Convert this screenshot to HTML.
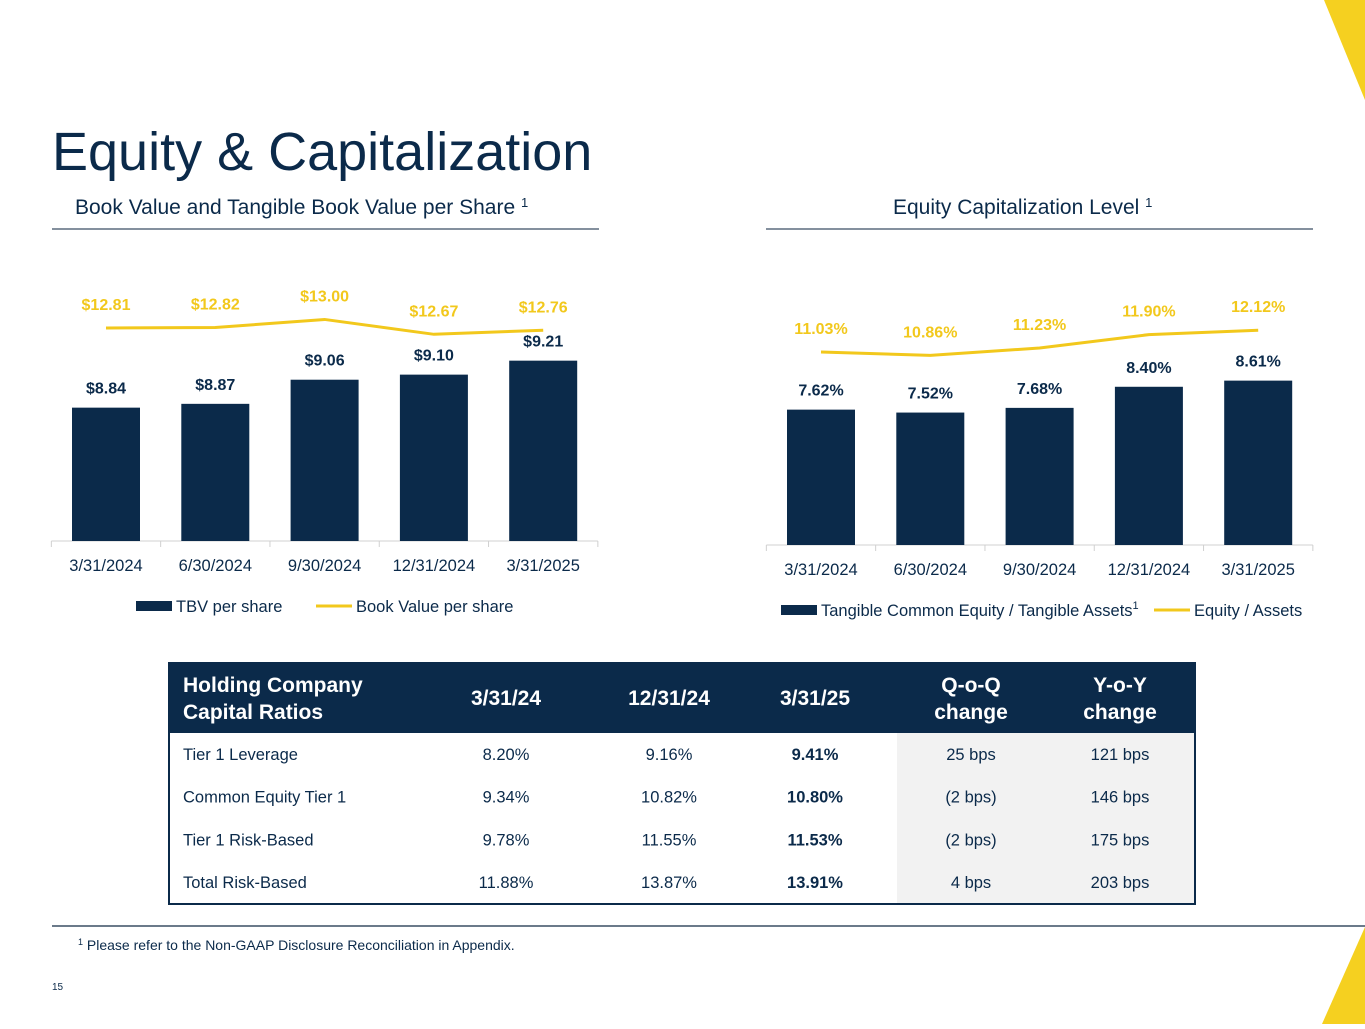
<!DOCTYPE html>
<html><head><meta charset="utf-8"><style>
body{margin:0;width:1365px;height:1024px;overflow:hidden;background:#fff;font-family:"Liberation Sans",sans-serif;}
svg text{font-family:"Liberation Sans",sans-serif;}
</style></head><body>
<svg id="s" width="1365" height="1024" viewBox="0 0 1365 1024" xmlns="http://www.w3.org/2000/svg">
<polygon points="1324,0 1365,0 1365,100" fill="#f5d020"/>
<polygon points="1365,927 1322,1024 1365,1024" fill="#f5d020"/>
<text x="52" y="170" font-size="54" fill="#0b2a4a">Equity &amp; Capitalization</text>
<text x="75" y="214" font-size="21" fill="#0b2a4a">Book Value and Tangible Book Value per Share <tspan font-size="13" dy="-7">1</tspan></text>
<line x1="52" y1="229" x2="599" y2="229" stroke="#3a4e63" stroke-width="1.2"/>
<text x="893" y="214" font-size="21" fill="#0b2a4a">Equity Capitalization Level <tspan font-size="13" dy="-7">1</tspan></text>
<line x1="766" y1="229" x2="1313" y2="229" stroke="#3a4e63" stroke-width="1.2"/>
<g id="c1"></g>
<g id="c2"></g>
<g id="tbl"></g>
<line x1="52" y1="926" x2="1365" y2="926" stroke="#3a4e63" stroke-width="1.5"/>
<text x="78" y="950" font-size="14" fill="#0b2a4a"><tspan font-size="9" dy="-5">1</tspan><tspan dy="5"> Please refer to the Non-GAAP Disclosure Reconciliation in Appendix.</tspan></text>
<text x="52" y="990" font-size="10" fill="#0b2a4a">15</text>
</svg>
<script>
const categories=["3/31/2024","6/30/2024","9/30/2024","12/31/2024","3/31/2025"];
const tbvValues=[8.84,8.87,9.06,9.10,9.21];
const bookValues=[12.81,12.82,13.00,12.67,12.76];
const tceValues=[7.62,7.52,7.68,8.40,8.61];
const eqAssetsValues=[11.03,10.86,11.23,11.90,12.12];
const NS="http://www.w3.org/2000/svg";
const NAVY="#0b2a4a",YEL="#f2c81c";
function mk(p,tag,a,txt){const e=document.createElementNS(NS,tag);for(const k in a)e.setAttribute(k,a[k]);if(txt!==undefined)e.textContent=txt;p.appendChild(e);return e;}
function chart(g,cfg){
  const xS=i=>cfg.x0+i*cfg.step;
  const barY=v=>cfg.base-(v-cfg.bMin)*cfg.bK;
  const lineY=v=>cfg.lRefY-(v-cfg.lRef)*cfg.lK;
  let ax=mk(g,"line",{x1:cfg.x0-cfg.step/2,x2:cfg.x0+4.5*cfg.step,y1:cfg.base,y2:cfg.base,stroke:"#d0d0d0"});
  
  for(let i=0;i<=5;i++){let t=mk(g,"line",{x1:xS(i)-cfg.step/2,x2:xS(i)-cfg.step/2,y1:cfg.base,y2:cfg.base+6,stroke:"#d0d0d0"});}
  cfg.bars.forEach((v,i)=>{
    const y=barY(v);
    let r=mk(g,"rect",{x:xS(i)-34,y:y,width:68,height:cfg.base-y,fill:NAVY});
    
    let t=mk(g,"text",{x:xS(i),y:y-14,"text-anchor":"middle","font-size":16,"font-weight":"bold",fill:NAVY},cfg.bFmt(v));
    
    let c=mk(g,"text",{x:xS(i),y:cfg.base+30,"text-anchor":"middle","font-size":16.5,fill:"#0b2a4a"},categories[i]);
    
  });
  const pts=cfg.line.map((v,i)=>xS(i)+","+lineY(v)).join(" ");
  let pl=mk(g,"polyline",{points:pts,fill:"none",stroke:YEL,"stroke-width":3});
  
  cfg.line.forEach((v,i)=>{
    let t=mk(g,"text",{x:xS(i),y:lineY(v)-18,"text-anchor":"middle","font-size":16,"font-weight":"bold",fill:YEL},cfg.lFmt(v));
    
  });
}
chart(document.getElementById("c1"),{x0:106,step:109.3,base:541,bMin:7.79,bK:127,bars:tbvValues,bFmt:v=>"$"+v.toFixed(2),
  line:bookValues,lRef:12.81,lRefY:328,lK:45,lFmt:v=>"$"+v.toFixed(2)});
chart(document.getElementById("c2"),{x0:821,step:109.3,base:545,bMin:3.0,bK:29.3,bars:tceValues,bFmt:v=>v.toFixed(2)+"%",
  line:eqAssetsValues,lRef:11.03,lRefY:352,lK:20,lFmt:v=>v.toFixed(2)+"%"});
const s=document.getElementById("s");
function leg(x,y,w,col,h,label,name){let r=mk(s,"rect",{x:x,y:y-h/2,width:w,height:h,fill:col});
 let t=mk(s,"text",{x:x+w+4,y:y+6,"font-size":16.5,fill:NAVY},label);return t;}
leg(136,606,36,NAVY,10,"TBV per share","legend-tbv");
leg(316,606,36,YEL,3,"Book Value per share","legend-book-value");
let lt=leg(781,610,36,NAVY,10,"Tangible Common Equity / Tangible Assets","legend-tce");
mk(lt,"tspan",{"font-size":11,dy:-7},"1");
leg(1154,610,36,YEL,3,"Equity / Assets","legend-equity-assets");
const tg=document.getElementById("tbl");
const colX=[506,669,815,971,1120];
const headers=["3/31/24","12/31/24","3/31/25","Q-o-Q|change","Y-o-Y|change"];
const rows=[["Tier 1 Leverage","8.20%","9.16%","9.41%","25 bps","121 bps"],
["Common Equity Tier 1","9.34%","10.82%","10.80%","(2 bps)","146 bps"],
["Tier 1 Risk-Based","9.78%","11.55%","11.53%","(2 bps)","175 bps"],
["Total Risk-Based","11.88%","13.87%","13.91%","4 bps","203 bps"]];
let hb=mk(tg,"rect",{x:169,y:663,width:1026,height:70,fill:NAVY});
let gb=mk(tg,"rect",{x:897,y:733,width:297,height:171,fill:"#f2f2f2"});
let bd=mk(tg,"rect",{x:169,y:663,width:1026,height:241,fill:"none",stroke:NAVY,"stroke-width":2});
let h0=mk(tg,"text",{x:183,y:692,"font-size":21,"font-weight":"bold",fill:"#fff"});
mk(h0,"tspan",{x:183},"Holding Company");mk(h0,"tspan",{x:183,dy:27},"Capital Ratios");
headers.forEach((h,i)=>{const p=h.split("|");
 let t=mk(tg,"text",{x:colX[i],y:p.length>1?692:705,"text-anchor":"middle","font-size":21,"font-weight":"bold",fill:"#fff"});
 
 p.forEach((q,j)=>mk(t,"tspan",{x:colX[i],dy:j?27:0},q));});
rows.forEach((r,ri)=>{const y=760+ri*42.7;
 let t=mk(tg,"text",{x:183,y:y,"font-size":16.5,fill:NAVY},r[0]);
 for(let c=1;c<6;c++){let v=mk(tg,"text",{x:colX[c-1],y:y,"text-anchor":"middle","font-size":16.5,fill:NAVY,"font-weight":c==3?"bold":"normal"},r[c]);
  }});
</script>
</body></html>
